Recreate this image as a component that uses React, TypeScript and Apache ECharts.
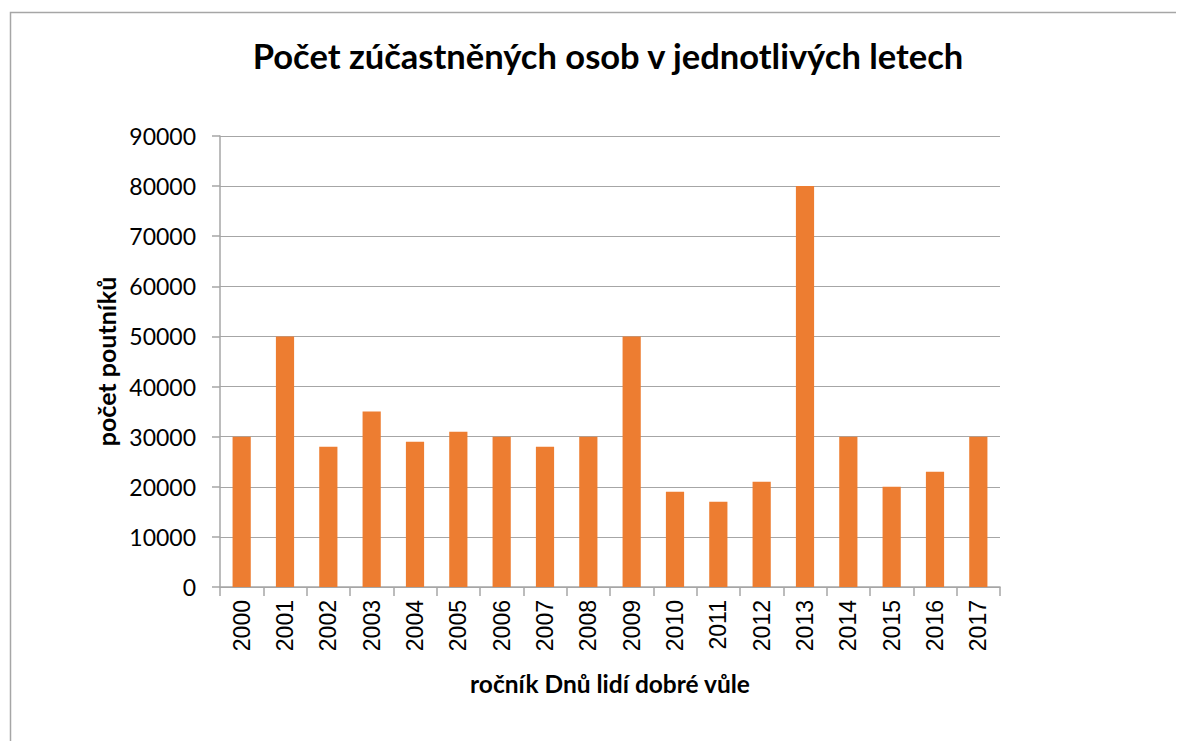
import React, { useEffect, useRef } from "react";
import * as echarts from "echarts";

const categories = ["2000","2001","2002","2003","2004","2005","2006","2007","2008","2009","2010","2011","2012","2013","2014","2015","2016","2017"];
const participants = [30000,50000,28000,35000,29000,31000,30000,28000,30000,50000,19000,17000,21000,80000,30000,20000,23000,30000];
const titleText = "Počet zúčastněných osob v jednotlivých letech";
const yAxisTitle = "počet poutníků";
const xAxisTitle = "ročník Dnů lidí dobré vůle";

export default function App() {
  const ref = useRef<HTMLDivElement>(null);
  useEffect(() => {
    const chart = echarts.init(ref.current!, undefined, { renderer: "svg" });
    chart.setOption({
      animation: false,
      backgroundColor: "#fff",
      title: {
        text: titleText,
        left: 603,
        top: 33,
        textAlign: "center",
        textStyle: { fontFamily: "Lato", fontWeight: "bold", fontSize: 34.5, color: "#000" },
      },
      graphic: [
        {
          type: "rect",
          shape: { x: 10.5, y: 12.5, width: 1300, height: 900 },
          style: { fill: "none", stroke: "#A6A6A6", lineWidth: 1.5 },
          silent: true,
        },
      ],
      grid: { left: 220, right: 184, top: 136, bottom: 162 },
      xAxis: {
        type: "category",
        data: categories,
        name: xAxisTitle,
        nameLocation: "middle",
        nameGap: 84,
        nameTextStyle: { fontFamily: "Lato", fontWeight: "bold", fontSize: 24.5, color: "#000" },
        axisLine: { lineStyle: { color: "#A6A6A6", width: 1.5 } },
        axisTick: { show: true, length: 9, lineStyle: { color: "#A6A6A6", width: 1.5 } },
        axisLabel: { rotate: 90, margin: 13, fontFamily: "Liberation Sans", fontSize: 23, color: "#000" },
      },
      yAxis: {
        type: "value",
        min: 0,
        max: 90000,
        interval: 10000,
        name: yAxisTitle,
        nameLocation: "middle",
        nameGap: 97,
        nameTextStyle: { fontFamily: "Lato", fontWeight: "bold", fontSize: 25, color: "#000" },
        axisLine: { show: true, lineStyle: { color: "#A6A6A6", width: 1.5 } },
        axisTick: { show: true, length: 8, lineStyle: { color: "#A6A6A6", width: 1.5 } },
        axisLabel: { margin: 24, fontFamily: "Lato", fontSize: 23, color: "#000", formatter: (v: number) => String(v) },
        splitLine: { lineStyle: { color: "#A6A6A6", width: 1.2 } },
      },
      series: [
        {
          type: "bar",
          data: participants,
          barWidth: "42%",
          itemStyle: { color: "#ED7D31" },
        },
      ],
    });
    return () => chart.dispose();
  }, []);
  return <div ref={ref} style={{ width: 1184, height: 749, margin: -8 }} />;
}
